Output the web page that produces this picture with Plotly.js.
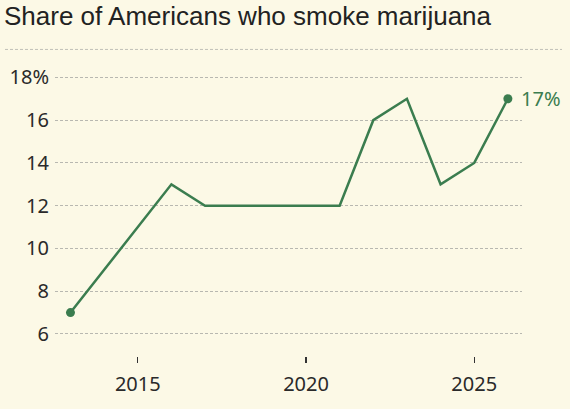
<!DOCTYPE html>
<html>
<head>
<meta charset="utf-8">
<script src="https://cdn.plot.ly/plotly-3.0.1.min.js"></script>
<style>
html,body{margin:0;padding:0;background:#fcf9e6;}
#chart{width:570px;height:409px;}
</style>
</head>
<body>
<div id="chart"></div>
<script>
const years = [2013, 2016, 2017, 2021, 2022, 2023, 2024, 2025, 2026];
const shares = [7, 13, 12, 12, 16, 17, 13, 14, 17];
const yTickVals = [6, 8, 10, 12, 14, 16, 18];
const yTickText = ["6", "8", "10", "12", "14", "16", "18%"];
const xTickVals = [2015, 2020, 2025];
const titleText = "Share of Americans who smoke marijuana";

const green = "#3b7d4f";
const last = years.length - 1;

const traces = [
  {
    x: years, y: shares, type: "scatter", mode: "lines",
    line: {color: green, width: 2.5}, hoverinfo: "skip"
  },
  {
    x: [years[0], years[last]], y: [shares[0], shares[last]],
    type: "scatter", mode: "markers",
    marker: {color: green, size: 9}, hoverinfo: "skip"
  }
];

const layout = {
  width: 570, height: 409,
  paper_bgcolor: "#fcf9e6", plot_bgcolor: "#fcf9e6",
  showlegend: false,
  margin: {l: 55, r: 48, t: 70.6, b: 53, pad: 0},
  title: {
    text: titleText,
    font: {family: "Liberation Sans, Arial, sans-serif", size: 26, color: "#222"},
    xref: "container", x: 4/570, xanchor: "left",
    yref: "container", y: 1 - 16/409, yanchor: "middle"
  },
  xaxis: {
    range: [2012.54, 2026.42],
    tickvals: xTickVals,
    ticks: "outside", ticklen: 6, tickwidth: 1.2, tickcolor: "#333",
    showgrid: false, zeroline: false, showline: false,
    tickfont: {family: "Noto Sans, sans-serif", size: 20, color: "#2a2a2a"},
    ticklabelstandoff: 4
  },
  yaxis: {
    range: [4.97, 18.3],
    tickvals: yTickVals, ticktext: yTickText,
    ticks: "", showline: false, zeroline: false,
    showgrid: true, gridcolor: "#b8b8b0", gridwidth: 1, griddash: "3px,2px",
    tickfont: {family: "Noto Sans, sans-serif", size: 20, color: "#2a2a2a"},
    ticklabelstandoff: 5
  },
  shapes: [{
    type: "line", xref: "paper", yref: "paper",
    x0: -50/467, x1: 507/467, y0: 307/285.4, y1: 307/285.4,
    line: {color: "#c0c0b8", width: 1, dash: "3px,2px"}
  }],
  annotations: [{
    x: years[last], y: shares[last], xref: "x", yref: "y",
    text: shares[last] + "%", showarrow: false,
    xanchor: "left", yanchor: "middle", xshift: 11,
    font: {family: "Noto Sans, sans-serif", size: 20, color: green}
  }]
};

Plotly.newPlot("chart", traces, layout, {displayModeBar: false, staticPlot: true});
</script>
</body>
</html>
